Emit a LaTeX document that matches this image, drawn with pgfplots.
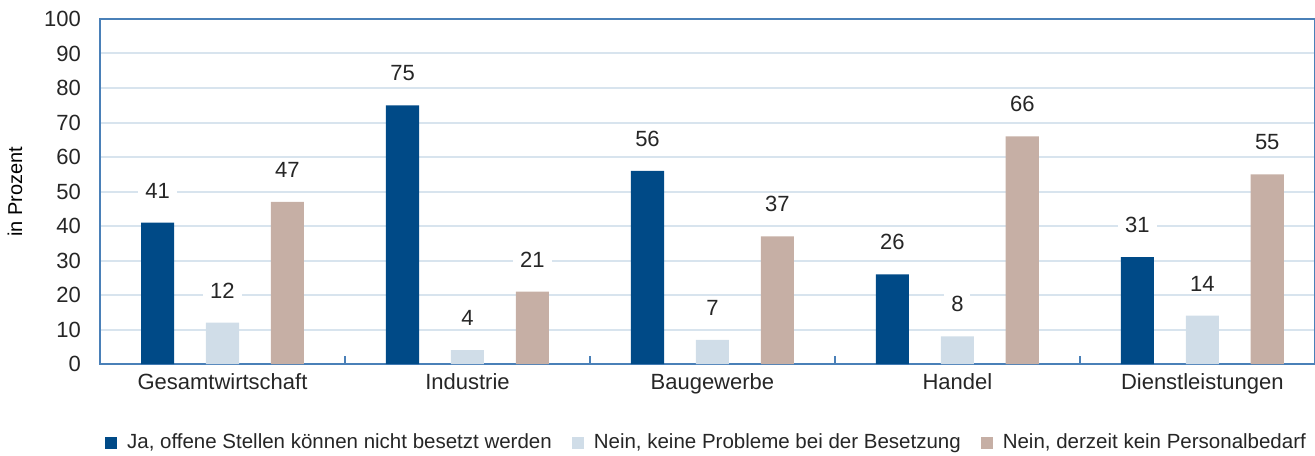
\documentclass[border=0pt]{standalone}
\usepackage{fontspec}
\setmainfont{Liberation Sans}
\usepackage{pgfplots}
\pgfplotsset{compat=1.18}

\definecolor{cJa}{HTML}{004A87}
\definecolor{cNein}{HTML}{D0DDE8}
\definecolor{cKein}{HTML}{C6AFA5}
\definecolor{gridblue}{HTML}{D8E4EE}
\definecolor{axisblue}{HTML}{4A80B8}

\begin{document}
\begin{tikzpicture}
\begin{axis}[
    scale only axis,
    width=607.5pt, height=172.5pt,
    xmin=-0.5, xmax=4.46,
    ymin=0, ymax=100,
    ybar, bar width=0.135,
    /pgf/number format/assume math mode=true,
    ytick={0,10,...,100},
    major tick length=0pt,
    ymajorgrids,
    grid style={draw=gridblue, line width=1pt},
    axis line style={draw=axisblue, line width=0.75pt},
    xtick={0,1,2,3,4},
    xticklabels={Gesamtwirtschaft, Industrie, Baugewerbe, Handel, Dienstleistungen},
    minor xtick={0.5,1.5,2.5,3.5},
    minor tick length=4pt,
    tick align=inside,
    xtick pos=bottom,
    minor x tick style={draw=axisblue, line width=0.75pt},
    xmajorgrids=false,
    ticklabel style={font=\fontsize{11}{13}\selectfont, text=black!85},
    yticklabel style={xshift=-6pt},
    xticklabel style={yshift=-1pt},
    ylabel={in Prozent},
    ylabel style={font=\fontsize{11}{13}\selectfont, text=black!85},
    every axis y label/.style={at={(axis description cs:-0.07,0.5)}, rotate=90, anchor=center},
    nodes near coords,
    every node near coord/.append style={font=\fontsize{11}{13}\selectfont, text=black!85,
        fill=white, inner xsep=3.5pt, inner ysep=1.5pt, yshift=10.5pt},
    legend style={at={(0.5,-0.229)}, anchor=center, draw=none, legend columns=-1,
        font=\fontsize{10.25}{12}\selectfont, text=black!85,
        /tikz/every odd column/.append style={column sep=3pt},
        /tikz/every even column/.append style={column sep=8pt}},
    legend image code/.code={\fill[#1] (0pt,-3pt) rectangle (6pt,3pt);},
]
\addplot[fill=cJa, draw=none, bar shift=-0.265] coordinates {
    (0,41) (1,75) (2,56) (3,26) (4,31)};
\addplot[fill=cNein, draw=none, bar shift=0] coordinates {
    (0,12) (1,4) (2,7) (3,8) (4,14)};
\addplot[fill=cKein, draw=none, bar shift=0.265] coordinates {
    (0,47) (1,21) (2,37) (3,66) (4,55)};
\legend{{Ja, offene Stellen können nicht besetzt werden},
        {Nein, keine Probleme bei der Besetzung},
        {Nein, derzeit kein Personalbedarf}}
\end{axis}
\pgfresetboundingbox
\path[use as bounding box] ([xshift=-50pt,yshift=-45.5pt]current axis.south west)
    rectangle ([yshift=9.5pt]current axis.north east);
\end{tikzpicture}
\end{document}
